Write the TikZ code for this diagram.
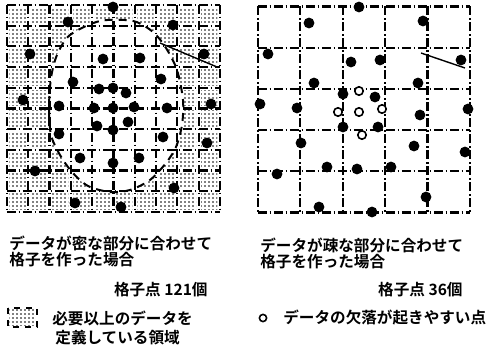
\documentclass[tikz,border=0pt]{standalone}
\usepackage{fontspec}
\setmainfont{Noto Sans CJK JP}[BoldFont={Noto Sans CJK JP Bold}]
\usetikzlibrary{patterns}
% fine dot screen used for the over-defined cells
\pgfdeclarepatternformonly{cellDots}{\pgfpointorigin}{\pgfpoint{2pt}{2pt}}{\pgfpoint{2pt}{2pt}}{%
  \pgfpathcircle{\pgfpoint{1pt}{1pt}}{0.45pt}\pgfusepath{fill}}

\tikzset{
  gridline/.style={line width=1.1pt, dash pattern=on 4.5pt off 1.3pt on 0.9pt off 1.3pt},
  bordercurve/.style={line width=1pt, dash pattern=on 4pt off 3pt},
  lostdot/.style={draw=black, fill=white, line width=0.8pt},
  caption/.style={font=\fontsize{7.8}{9}\selectfont\bfseries, anchor=west, inner sep=0pt},
}

\begin{document}
\begin{tikzpicture}[x=0.5pt,y=-0.5pt]
  \useasboundingbox (0,0) rectangle (489,352);

  % left: fine grid, 10 x 10 cells
  \foreach \i in {0,...,9}
    \foreach \j in {0,...,9}
      \fill[pattern=cellDots] ({7+21.3*\i+2.5},{5+20.7*\j+2.5}) rectangle ({7+21.3*(\i+1)-2.5},{5+20.7*(\j+1)-2.5});
  \fill[white] plot[smooth cycle] coordinates {(100,21) (133,21) (153,32) (166,48) (177,70) (183,100) (182,125) (176,147) (166,163) (150,180) (130,190) (110,192) (88,186) (72,172) (60,155) (51,135) (49,108) (51,78) (57,55) (70,35)};
  \foreach \i in {0,...,10} {
    \draw[gridline] ({7+21.3*\i},5) -- ({7+21.3*\i},212);
    \draw[gridline] (7,{5+20.7*\i}) -- (220,{5+20.7*\i});
  }
  \draw[bordercurve] plot[smooth cycle] coordinates {(100,21) (133,21) (153,32) (166,48) (177,70) (183,100) (182,125) (176,147) (166,163) (150,180) (130,190) (110,192) (88,186) (72,172) (60,155) (51,135) (49,108) (51,78) (57,55) (70,35)};
  \draw[line width=0.7pt] (160,43) -- (217,67);
  \foreach \p in {(113,7),(68,22),(173,25),(30,54),(103,59),(140,58),(204,54),(73,82),(161,79),(99,89),(113,88),(126,93),(23,100),(59,106),(94,108),(113,108),(134,107),(167,108),(211,104),(97,126),(128,122),(113,130),(59,134),(163,137),(207,143),(80,158),(139,158),(113,163),(35,171),(174,188),(75,203),(121,207)}
    \fill \p circle (2.7pt);

  % right: coarse grid, 5 x 5 cells
  \foreach \i in {0,...,5} {
    \draw[gridline] ({258+42.4*\i},6.5) -- ({258+42.4*\i},212.5);
    \draw[gridline] (258,{6.5+41.2*\i}) -- (470,{6.5+41.2*\i});
  }
  \draw[line width=0.7pt] (421,53) -- (465,68);
  \foreach \p in {(359,7),(309,23),(423,21),(268,54),(351,62),(380,60),(461,60),(314,83),(418,83),(343,94),(375,97),(260,104),(297,108),(420,115),(468,109),(343,127),(378,127),(301,143),(414,146),(465,152),(327,167),(357,169),(391,167),(277,174),(426,197),(319,207),(372,212)}
    \fill \p circle (2.7pt);
  \foreach \p in {(359,91),(338,112),(359,112),(382,109),(362,135)}
    \draw[lostdot] \p circle (2.1pt);

  % captions
  \node[caption] (densetitle) at (9,243) {データが密な部分に合わせて};
  \node[caption] (densetitleb) at (9,260) {格子を作った場合};
  \node[caption, anchor=east] (densecount) at (208,290) {格子点 121個};
  \fill[pattern=cellDots] (9.5,309.5) rectangle (35.5,325.5);
  \draw[dashed, line width=0.6pt] (8,308) rectangle (37,327);
  \node[caption] (densekey) at (52,318) {必要以上のデータを};
  \node[caption] (densekeyb) at (55,338) {定義している領域};

  \node[caption] (sparsetitle) at (260,245) {データが疎な部分に合わせて};
  \node[caption] (sparsetitleb) at (260,262) {格子を作った場合};
  \node[caption, anchor=east] (sparsecount) at (463,290) {格子点 36個};
  \node[draw, circle, line width=0.8pt, minimum size=3.6pt, inner sep=0pt] (lostkey) at (263,318) {};
  \node[caption] (sparsekey) at (283,318) {データの欠落が起きやすい点};
\end{tikzpicture}
\end{document}
